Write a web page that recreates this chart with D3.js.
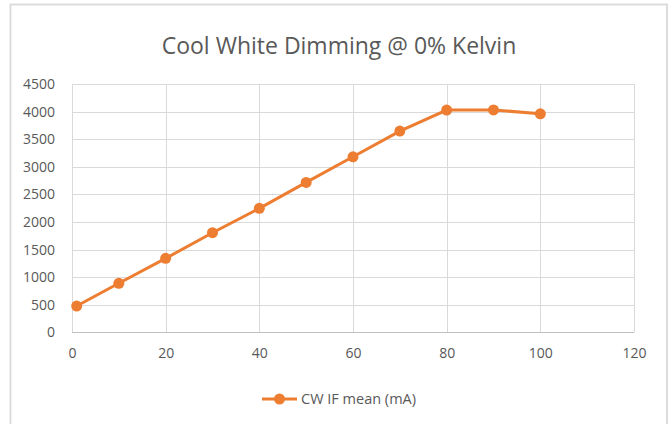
<!DOCTYPE html>
<html>
<head>
  <style>
    body { margin: 0; background: #fff; }
    text { font-family: "Open Sans", sans-serif; }
  </style>
</head>
<body>
  <svg width="670" height="424"></svg>
  <script src="https://d3js.org/d3.v7.min.js"></script>
  <script>
    const dimLevel = [1, 10, 20, 30, 40, 50, 60, 70, 80, 90, 100];
    const cwMean = [476, 888, 1340, 1805, 2246, 2717, 3181, 3647, 4027, 4030, 3960];
    const xTicks = [0, 20, 40, 60, 80, 100, 120];
    const yTicks = [0, 500, 1000, 1500, 2000, 2500, 3000, 3500, 4000, 4500];
    const seriesName = "CW IF mean (mA)";
    const title = "Cool White Dimming @ 0% Kelvin";

    const width = 670, height = 424;
    const svg = d3.select("svg");
    const orange = "#ED7D31";
    const textColor = "#595959";

    // chart frame (bottom runs off the picture)
    svg.append("rect")
      .attr("x", 10.5).attr("y", 4.5)
      .attr("width", 656.5).attr("height", 430)
      .attr("fill", "#fff")
      .attr("stroke", "#d9d9d9")
      .attr("stroke-width", 1.8);

    const x = d3.scaleLinear().domain([0, 120]).range([72, 634]);
    const y = d3.scaleLinear().domain([0, 4500]).range([332.3, 84]);

    // gridlines
    svg.append("g").selectAll("line")
      .data(yTicks.filter(d => d > 0))
      .join("line")
      .attr("x1", x(0)).attr("x2", x(120))
      .attr("y1", d => Math.round(y(d)) + 0.5).attr("y2", d => Math.round(y(d)) + 0.5)
      .attr("stroke", "#d9d9d9");
    svg.append("g").selectAll("line")
      .data(xTicks)
      .join("line")
      .attr("x1", d => Math.round(x(d)) + 0.5).attr("x2", d => Math.round(x(d)) + 0.5)
      .attr("y1", y(4500)).attr("y2", y(0))
      .attr("stroke", "#d9d9d9");
    svg.append("line")
      .attr("x1", x(0)).attr("x2", x(120))
      .attr("y1", Math.round(y(0)) + 0.5).attr("y2", Math.round(y(0)) + 0.5)
      .attr("stroke", "#bfbfbf");

    // axis labels
    const yAxis = svg.append("g")
      .attr("transform", `translate(${x(0)},0)`)
      .call(d3.axisLeft(y).tickValues(yTicks).tickFormat(d3.format("d")).tickSize(0).tickPadding(17));
    yAxis.select(".domain").remove();
    yAxis.selectAll("text").attr("fill", textColor).attr("font-size", 14)
      .attr("font-family", "Open Sans, sans-serif");

    const xAxis = svg.append("g")
      .attr("transform", `translate(0,${y(0)})`)
      .call(d3.axisBottom(x).tickValues(xTicks).tickFormat(d3.format("d")).tickSize(0).tickPadding(16));
    xAxis.select(".domain").remove();
    xAxis.selectAll("text").attr("fill", textColor).attr("font-size", 14)
      .attr("font-family", "Open Sans, sans-serif");

    // series
    const pts = dimLevel.map((d, i) => [d, cwMean[i]]);
    svg.append("path")
      .datum(pts)
      .attr("fill", "none")
      .attr("stroke", orange)
      .attr("stroke-width", 3)
      .attr("d", d3.line().x(d => x(d[0])).y(d => y(d[1])));
    svg.append("g").selectAll("circle")
      .data(pts)
      .join("circle")
      .attr("cx", d => x(d[0])).attr("cy", d => y(d[1]))
      .attr("r", 5.5)
      .attr("fill", orange);

    // title
    svg.append("text")
      .attr("x", 339).attr("y", 54)
      .attr("text-anchor", "middle")
      .attr("font-size", 23)
      .attr("fill", textColor)
      .text(title);

    // legend
    const lg = svg.append("g");
    lg.append("line")
      .attr("x1", 262).attr("x2", 297)
      .attr("y1", 399).attr("y2", 399)
      .attr("stroke", orange).attr("stroke-width", 3);
    lg.append("circle")
      .attr("cx", 279.5).attr("cy", 399).attr("r", 5.5).attr("fill", orange);
    lg.append("text")
      .attr("x", 301).attr("y", 404)
      .attr("font-size", 14.5)
      .attr("fill", textColor)
      .text(seriesName);
  </script>
</body>
</html>
